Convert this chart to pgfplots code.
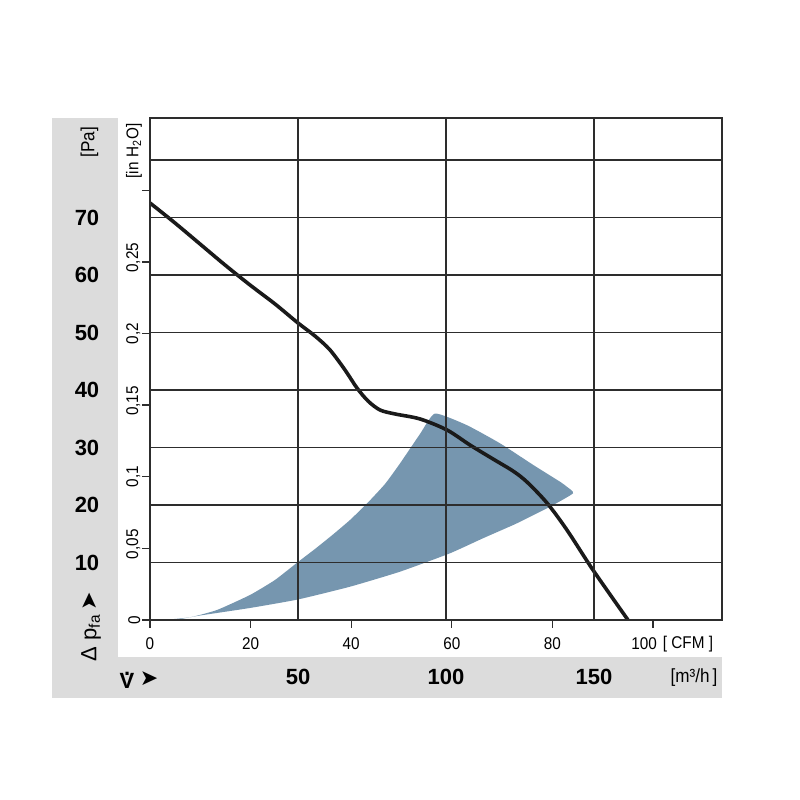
\documentclass[border=0pt]{standalone}
\usepackage{fontspec}
\setmainfont{Liberation Sans}
\newfontfamily\narrow{Liberation Sans}[FakeStretch=0.9]
\newfontfamily\symfont{DejaVu Sans}
\usepackage{pgfplots}
\pgfplotsset{compat=1.18}

\definecolor{band}{RGB}{220,220,220}
\definecolor{area}{RGB}{118,150,175}
\definecolor{curve}{RGB}{26,26,26}
\definecolor{gridc}{RGB}{45,45,45}
\newcommand\fs[1]{\fontsize{#1}{#1}\selectfont}

% fan curve: dp_fa [Pa] over flow [CFM]
\pgfplotstableread{
x y
0     72.52
4.97  69.04
9.94  65.39
14.91 61.74
19.88 58.26
24.85 54.96
29.42 51.65
32.80 49.39
35.79 46.96
38.77 43.48
41.15 40.35
43.34 38.09
45.73 36.52
48.71 35.83
53.68 34.96
59.05 33.04
63.62 30.43
68.19 28.00
72.17 25.91
74.95 24.00
78.93 20.35
82.90 15.65
88.07 8.70
95.03 0
}\fancurve

% operating range: upper edge, arc, then lower edge back
\pgfplotstableread{
x y
2.58  0
7.95  0.47
13.32 1.74
19.88 4.35
24.85 6.96
29.42 10.09
32.80 12.35
36.38 14.87
39.76 17.39
43.14 20.26
46.72 23.65
49.70 27.22
53.68 32.35
56.66 35.91
62.96 33.90
69.58 30.73
76.20 26.96
81.51 24.05
82.84 23.20
84.10 22.03
79.52 19.70
72.96 16.82
66.20 14.21
59.64 11.60
49.70 8.40
39.76 5.79
29.42 3.57
19.88 2.09
9.94  0.78
5.96  0.17
2.58  0
}\range

\begin{document}
\begin{tikzpicture}
\useasboundingbox (0,0) rectangle (400pt,400pt);
\begin{scope}[x=0.5pt,y=-0.5pt,shift={(0pt,400pt)}]
  \fill[band] (52,118) rectangle (118,698);
  \fill[band] (52,657) rectangle (722,698);
\end{scope}

\begin{axis}[
  at={(75pt,90pt)}, anchor=south west,
  scale only axis, width=286pt, height=251pt,
  xmin=0, xmax=113.72, ymin=0, ymax=87.3,
  axis on top,
  /pgf/number format/assume math mode=true,
  axis line style={gridc, line width=0.65pt},
  tick style={gridc, line width=0.65pt},
  grid style={gridc, line width=0.65pt},
  tick align=outside, major tick length=4pt,
  xtick pos=bottom, ytick pos=left,
  xtick={0,20,...,100},
  xticklabels={0,20,40,60,80,{\makebox[4pt][r]{100}}},
  xticklabel style={font=\fs{8.5pt}\narrow, yshift=-1.2pt},
  ytick={0,12.454,24.909,37.363,49.818,62.272,74.727},
  yticklabels={0,{\phantom{0}0,05},{0,1},{\phantom{0}0,15},{0,2},{\phantom{0}0,25},{}},
  yticklabel style={font=\fs{8.5pt}\narrow, rotate=90, anchor=south, inner sep=0pt, yshift=0.7pt},
  extra x ticks={29.43,58.86,88.29}, extra x tick labels={},
  extra x tick style={grid=major, major tick length=0pt},
  extra y ticks={10,20,...,80}, extra y tick labels={},
  extra y tick style={grid=major, major tick length=0pt},
]
\addplot[draw=none, fill=area, smooth, tension=0.3] table {\range};
\addplot[curve, line width=1.8pt, smooth, tension=0.5] table {\fancurve};
\end{axis}

% second scale: Pa and m3/h
\begin{axis}[
  at={(75pt,90pt)}, anchor=south west,
  scale only axis, width=286pt, height=251pt,
  xmin=0, xmax=113.72, ymin=0, ymax=87.3,
  /pgf/number format/assume math mode=true,
  axis line style={draw=none}, tick style={draw=none},
  major tick length=0pt,
  xtick={29.43,58.86,88.29}, xticklabels={50,100,150},
  xticklabel style={font=\fs{11pt}\bfseries, anchor=center, yshift=-28.5pt},
  ytick={10,20,...,70},
  yticklabel style={font=\fs{11pt}\bfseries, anchor=center, xshift=-31.5pt},
]
\addplot[draw=none] coordinates {(0,0) (100,80)};
\end{axis}

\begin{scope}[x=0.5pt,y=-0.5pt,shift={(0pt,400pt)}]
  \node[rotate=90, font=\fs{9.5pt}\narrow] at (89.5,142) {[Pa]};
  \node[rotate=90, font=\fs{8.5pt}\narrow] at (134,151) {[in H\textsubscript{2}O]};
  \node[font=\fs{8.5pt}\narrow] at (688,644) {[ CFM ]};
  \node[font=\fs{9.5pt}\narrow] at (694,678) {[m³/h\,]};
  \node[font=\fs{11pt}\bfseries] at (127,680) {\makebox[0pt][l]{\hspace{0.2em}\raisebox{0.6em}{.}}V};
  \node[font=\fs{11pt}\symfont] at (149,679) {➤};
  \node[rotate=90, font=\fs{11pt}] at (91,627) {Δ\hspace{0.3em}p\textsubscript{fa}\,{\symfont ➤}};
\end{scope}
\end{tikzpicture}
\end{document}
